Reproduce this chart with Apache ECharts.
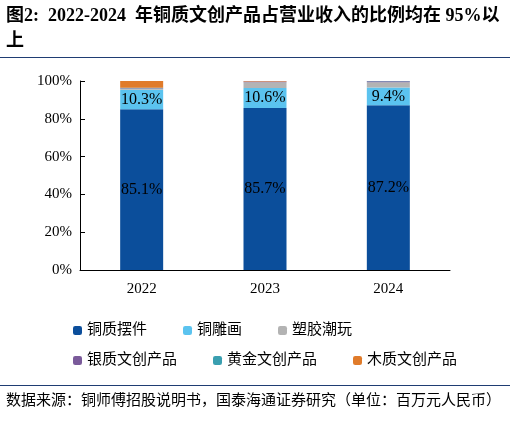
<!DOCTYPE html><html><head><meta charset="utf-8"><script src="https://cdn.jsdelivr.net/npm/echarts@6/dist/echarts.min.js"></script>
<style>body{margin:0;background:#fff}#t{position:absolute;left:6px;top:3px;width:500px;font-weight:bold;font-size:18px;line-height:25px;font-family:"Liberation Serif","Noto Sans CJK SC",serif}#s{position:absolute;left:6px;top:389px;width:500px;font-size:15px;line-height:22px;font-family:"Liberation Serif","Noto Sans CJK SC",serif}#c{position:absolute;left:0;top:0;width:510px;height:438px}</style></head><body>
<div id="c"></div>
<div id="t">图2:&nbsp; 2022-2024&nbsp; 年铜质文创产品占营业收入的比例均在 95%以上</div>
<div style="position:absolute;left:0;top:57px;width:510px;border-top:1.5px solid #1f3d73"></div>
<div style="position:absolute;left:0;top:385px;width:510px;border-top:1px solid #1f3d73"></div>
<div id="s">数据来源：铜师傅招股说明书，国泰海通证券研究（单位：百万元人民币）</div>
<script>
const categories=['2022','2023','2024'];
const names=['铜质摆件','铜雕画','塑胶潮玩','银质文创产品','黄金文创产品','木质文创产品'];
const colors=['#0b4e9b','#5bc3ef','#b3b3b3','#7a5a9a','#3a9fb0','#e07b2a'];
const values=[[85.1,85.7,87.2],[10.3,10.6,9.4],[0.5,3.0,2.8],[0.3,0.4,0.5],[0.2,0.1,0.1],[3.6,0.2,0]];
const c=echarts.init(document.getElementById('c'));
const f='"Liberation Serif","Noto Sans CJK SC",serif';
const lg=(top,data)=>({top,left:68,itemWidth:9,itemHeight:9,itemGap:36,textStyle:{fontSize:15,fontFamily:f,color:'#000'},data});
c.setOption({animation:false,
grid:{left:80,right:60,top:81,bottom:168},
legend:[lg(318,names.slice(0,3)),lg(348,names.slice(3))],
xAxis:{type:'category',data:categories,axisTick:{show:false},axisLine:{lineStyle:{color:'#000'}},axisLabel:{fontSize:15,color:'#000',fontFamily:f,margin:12}},
yAxis:{type:'value',min:0,max:100,interval:20,splitLine:{show:false},axisLine:{show:true,lineStyle:{color:'#000'}},axisTick:{show:true,inside:true},axisLabel:{formatter:'{value}%',fontSize:15,color:'#000',fontFamily:f}},
series:names.map((n,i)=>({name:n,type:'bar',stack:'a',barWidth:43,itemStyle:{color:colors[i]},data:values[i],
label:{show:i<2,position:'inside',formatter:p=>p.value.toFixed(1)+'%',fontSize:16,color:'#000',fontFamily:f}}))
});
</script></body></html>
